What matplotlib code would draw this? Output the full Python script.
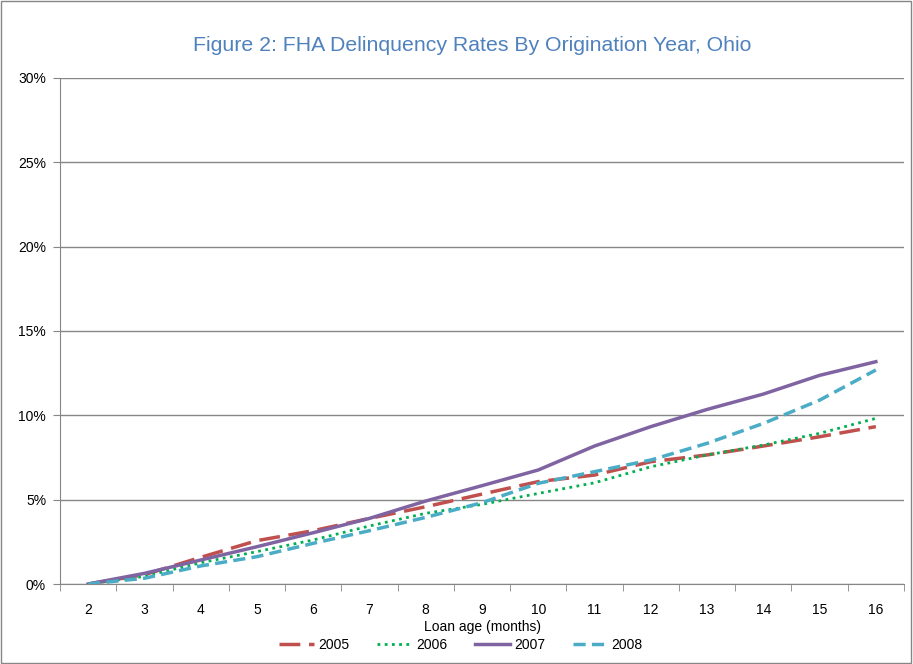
import numpy as np
import matplotlib.pyplot as plt
from matplotlib.patches import Rectangle

plt.rcParams['font.family'] = ['Liberation Sans', 'DejaVu Sans']

months = [2, 3, 4, 5, 6, 7, 8, 9, 10, 11, 12, 13, 14, 15, 16]
y2005 = [0, 0.55, 1.58, 2.57, 3.16, 3.89, 4.58, 5.33, 6.07, 6.46, 7.25, 7.65, 8.18, 8.73, 9.33]
y2006 = [0, 0.45, 1.26, 1.92, 2.61, 3.44, 4.19, 4.72, 5.37, 6.00, 6.95, 7.65, 8.24, 8.93, 9.82]
y2007 = [0, 0.63, 1.42, 2.21, 3.04, 3.89, 4.92, 5.83, 6.76, 8.18, 9.33, 10.35, 11.26, 12.37, 13.18]
y2008 = [0, 0.34, 1.07, 1.62, 2.41, 3.16, 3.95, 4.82, 5.97, 6.66, 7.35, 8.34, 9.52, 10.90, 12.69]
yticks = [0, 5, 10, 15, 20, 25, 30]

fig = plt.figure(figsize=(9.13, 6.64), dpi=100)
fig.patches.append(Rectangle((0.001, 0.001), 0.997, 0.997, transform=fig.transFigure,
                             fill=False, edgecolor='#868686', linewidth=1))
ax = fig.add_axes([60 / 913, 80 / 664, 844 / 913, 506 / 664])

x = np.arange(len(months))
grey = '#868686'
ax.plot(x, y2005, color='#C0504D', lw=2.5, dashes=(6, 2.5), label='2005')
ax.plot(x, y2006, color='#00B050', lw=2.0, dashes=(1, 1.6), label='2006')
ax.plot(x, y2007, color='#8064A2', lw=2.5, label='2007')
ax.plot(x, y2008, color='#4BACC6', lw=2.5, dashes=(3.5, 1.8), label='2008')

ax.set_xlim(-0.5, len(months) - 0.5)
ax.set_ylim(0, 30)
ax.set_yticks(yticks)
ax.set_yticklabels([f'{v}%' for v in yticks], fontsize=10)
ax.yaxis.grid(True, color=grey, lw=1)
ax.set_axisbelow(True)
ax.set_xticks(x)
ax.set_xticklabels([str(m) for m in months], fontsize=10)
ax.tick_params(axis='x', length=0, pad=13.5)
ax.set_xticks(np.arange(-0.5, len(months)), minor=True)
ax.tick_params(axis='x', which='minor', length=5, color=grey, direction='out')
ax.tick_params(axis='y', length=5, color=grey, direction='out', pad=5)
for s in ['top', 'right']:
    ax.spines[s].set_visible(False)
for s in ['left', 'bottom']:
    ax.spines[s].set_color(grey)
ax.set_xlabel('Loan age (months)', fontsize=10, labelpad=2)

fig.text(0.517, 0.932, 'Figure 2: FHA Delinquency Rates By Origination Year, Ohio',
         ha='center', va='center', fontsize=15.3, color='#4F81BD')
fig.legend(loc='center', bbox_to_anchor=(0.505, 0.029), ncol=4, frameon=False,
           fontsize=10, handlelength=2.5, columnspacing=2.0, handletextpad=0.3)

fig.savefig('out.png', dpi=100)
